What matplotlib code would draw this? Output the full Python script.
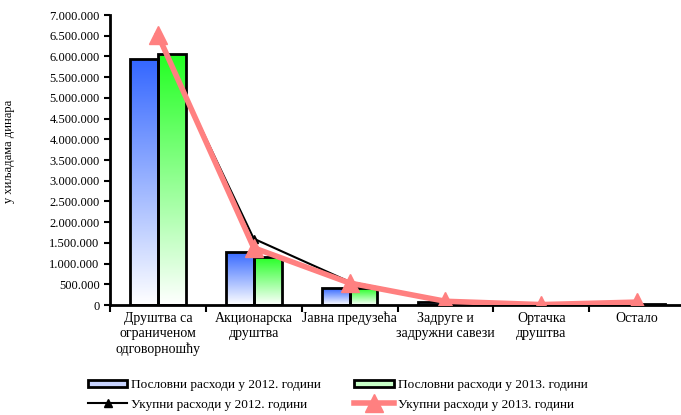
import numpy as np
import matplotlib
matplotlib.use("Agg")
import matplotlib.pyplot as plt
from matplotlib.colors import LinearSegmentedColormap
from matplotlib.patches import Patch
from matplotlib.lines import Line2D

plt.rcParams['font.family'] = ['Liberation Serif', 'DejaVu Serif']

categories = ["Друштва са\nограниченом\nодговорношћу", "Акционарска\nдруштва", "Јавна предузећа",
              "Задруге и\nзадружни савези", "Ортачка\nдруштва", "Остало"]
business_2012 = [5940000, 1280000, 410000, 70000, 5000, 30000]
business_2013 = [6060000, 1160000, 410000, 60000, 5000, 30000]
total_2012 = [6450000, 1600000, 560000, 100000, 10000, 60000]
total_2013 = [6520000, 1380000, 530000, 90000, 10000, 70000]
yticks = list(range(0, 7000001, 500000))
legend_labels = ["Пословни расходи у 2012. години", "Пословни расходи у 2013. години",
                 "Укупни расходи у 2012. години", "Укупни расходи у 2013. години"]
ylabel = "у хиљадама динара"

fig = plt.figure(figsize=(6.81, 4.15), dpi=100)
ax = fig.add_axes([110/681, 1-305/415, 575/681, 290/415])

x = np.arange(len(categories))
w = 0.29
cmap_b = LinearSegmentedColormap.from_list("b", ["#ffffff", "#3366ff"])
cmap_g = LinearSegmentedColormap.from_list("g", ["#ffffff", "#22ff22"])
grad = np.linspace(0, 1, 256).reshape(-1, 1)

def gbar(xs, vals, cmap):
    bars = ax.bar(xs, vals, width=w, facecolor='none', edgecolor='black', linewidth=2, zorder=3)
    for b in bars:
        x0, y0 = b.get_x(), b.get_y()
        im = ax.imshow(grad, cmap=cmap, origin='lower', aspect='auto',
                       extent=[x0, x0 + b.get_width(), y0, y0 + b.get_height()], zorder=2)
        im.set_clip_path(b)
    return bars

gbar(x - w/2, business_2012, cmap_b)
gbar(x + w/2, business_2013, cmap_g)

ax.plot(x, total_2012, color='black', linewidth=1.5, marker='^', markersize=6, zorder=4)
ax.plot(x, total_2013, color='#ff8080', linewidth=4, marker='^', markersize=13, zorder=5)

ax.set_xlim(-0.5, len(categories) - 0.5)
ax.set_ylim(0, 7000000)
ax.set_yticks(yticks)
ax.set_yticklabels([f"{v:,}".replace(",", ".") for v in yticks], fontsize=9)
ax.set_xticks(np.arange(-0.5, len(categories), 1.0))
ax.set_xticklabels([])
ax.set_xticks(x, minor=True)
ax.set_xticklabels(categories, minor=True, fontsize=10, linespacing=1.2)
ax.tick_params(axis='x', which='minor', length=0, pad=5)
ax.tick_params(axis='x', which='major', length=5, width=1.5, direction='out')
ax.tick_params(axis='y', length=4, width=1.5, direction='out')
for s in ['top', 'right']:
    ax.spines[s].set_visible(False)
for s in ['left', 'bottom']:
    ax.spines[s].set_linewidth(2)
ax.set_ylabel(ylabel, fontsize=9)
ax.yaxis.set_label_coords(-0.165, 0.53)

h1 = Patch(facecolor='#c8d4ff', edgecolor='black', linewidth=2)
h2 = Patch(facecolor='#c8ffc8', edgecolor='black', linewidth=2)
h3 = Line2D([], [], color='black', linewidth=1.5, marker='^', markersize=6)
h4 = Line2D([], [], color='#ff8080', linewidth=4, marker='^', markersize=13)
fig.legend([h1, h3, h2, h4], [legend_labels[0], legend_labels[2], legend_labels[1], legend_labels[3]],
           ncol=2, loc='lower left', bbox_to_anchor=(76/681, -0.018), frameon=False, fontsize=9.5,
           handlelength=3.0, handleheight=0.5, columnspacing=2.5, handletextpad=0.3, labelspacing=0.55)

fig.savefig("out.png", dpi=100)
